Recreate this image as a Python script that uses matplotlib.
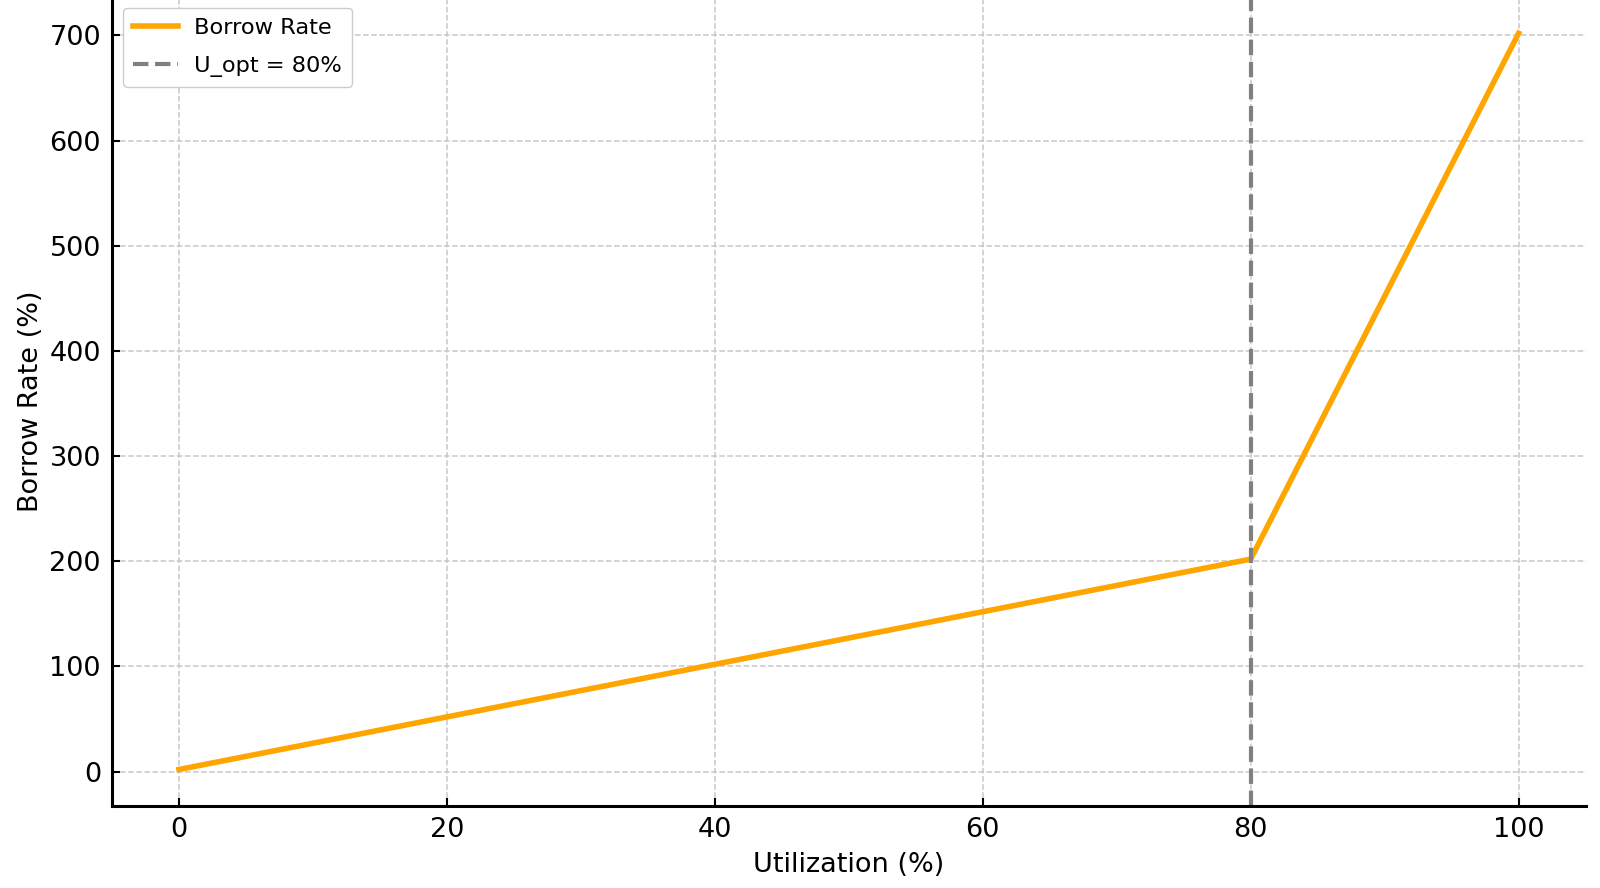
import matplotlib
matplotlib.use("Agg")
import matplotlib.pyplot as plt

# kinked borrow-rate curve
utilization = [0, 80, 100]
borrow_rate = [2, 202, 702]
u_opt = 80

fig = plt.figure(figsize=(16, 8.88), dpi=100)
ax = fig.add_axes([0.07, 0.092, 0.921, 0.912])

ax.plot(utilization, borrow_rate, color="orange", lw=4, label="Borrow Rate")
ax.axvline(u_opt, color="gray", ls="--", lw=3, label="U_opt = 80%")

ax.set_xticks([0, 20, 40, 60, 80, 100])
ax.set_yticks([0, 100, 200, 300, 400, 500, 600, 700])
ax.tick_params(direction="in", labelsize=19.5, width=1.5, length=6, pad=8)
ax.set_xlabel("Utilization (%)", fontsize=19.5, labelpad=6)
ax.set_ylabel("Borrow Rate (%)", fontsize=19.5, labelpad=4)

ax.grid(True, ls="--", color="#c8c8c8", lw=1.1)
for s in ["top", "right"]:
    ax.spines[s].set_visible(False)
for s in ["left", "bottom"]:
    ax.spines[s].set_linewidth(2.2)

ax.legend(loc="upper left", fontsize=16.2, framealpha=1, edgecolor="#cccccc",
          bbox_to_anchor=(0.0, 1.0), labelspacing=0.8, borderpad=0.45,
          handletextpad=0.7)

fig.savefig("out.png", dpi=100)
